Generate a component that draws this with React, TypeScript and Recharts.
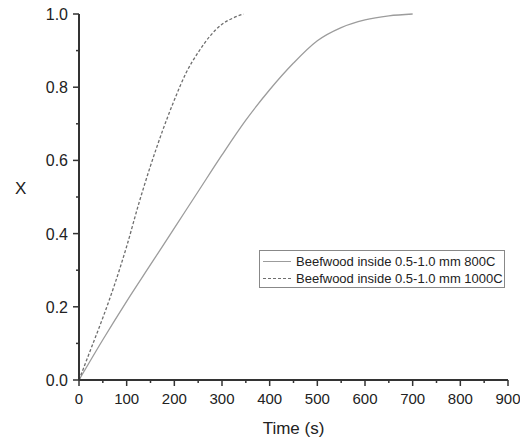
import React from 'react';
import { LineChart, Line, XAxis, YAxis, Legend } from 'recharts';

// time (s) vs conversion X
const time800 = [0, 50, 100, 150, 200, 250, 300, 350, 400, 450, 500, 550, 600, 650, 700];
const conv800 = [0, 0.11, 0.215, 0.315, 0.415, 0.515, 0.615, 0.71, 0.793, 0.866, 0.927, 0.963, 0.984, 0.995, 1.0];

const time1000 = [0, 25, 50, 75, 100, 125, 150, 175, 200, 225, 250, 275, 300, 325, 345];
const conv1000 = [0, 0.085, 0.17, 0.262, 0.365, 0.48, 0.585, 0.68, 0.765, 0.84, 0.895, 0.94, 0.972, 0.99, 1.0];

const xTicks = [0, 50, 100, 150, 200, 250, 300, 350, 400, 450, 500, 550, 600, 650, 700, 750, 800, 850, 900];
const yTicks = [0, 0.1, 0.2, 0.3, 0.4, 0.5, 0.6, 0.7, 0.8, 0.9, 1.0];

const series = [
  { name: 'Beefwood inside 0.5-1.0 mm 800C', data: time800.map((t, i) => ({ t, x: conv800[i] })), color: '#9c9c9c', dash: undefined },
  { name: 'Beefwood inside 0.5-1.0 mm 1000C', data: time1000.map((t, i) => ({ t, x: conv1000[i] })), color: '#6e6e6e', dash: '3 2' },
];

const FONT = '"Liberation Sans", Arial, sans-serif';
const AXIS = '#333';

const XTick = (props: any) => {
  const { x, y, payload } = props;
  const major = payload.value % 100 === 0;
  return (
    <g>
      <line x1={x} x2={x} y1={y} y2={y + (major ? 6 : 3)} stroke={AXIS} strokeWidth={1.5} />
      {major && (
        <text x={x} y={y + 24} textAnchor="middle" fontSize={15} fontFamily={FONT} fill="#222">
          {payload.value}
        </text>
      )}
    </g>
  );
};

const YTick = (props: any) => {
  const { x, y, payload } = props;
  const major = Math.round(payload.value * 10) % 2 === 0;
  return (
    <g>
      <line x1={x} x2={x - (major ? 6 : 3)} y1={y} y2={y} stroke={AXIS} strokeWidth={1.5} />
      {major && (
        <text x={x - 11} y={y + 6} textAnchor="end" fontSize={16} fontFamily={FONT} fill="#222">
          {payload.value.toFixed(1)}
        </text>
      )}
    </g>
  );
};

const LegendBox = () => (
  <div
    style={{
      width: 244, height: 36, border: '1px solid #888', background: '#fff',
      fontFamily: FONT, fontSize: 13, color: '#222', boxSizing: 'content-box',
    }}
  >
    {series.map((s, i) => (
      <div key={s.name} style={{ display: 'flex', alignItems: 'center', height: 17, marginTop: i === 0 ? 2 : 0 }}>
        <svg width={36} height={17}>
          <line x1={3} x2={31} y1={8.5} y2={8.5} stroke={s.color} strokeWidth={1} strokeDasharray={s.dash} />
        </svg>
        <span style={{ whiteSpace: 'nowrap' }}>{s.name}</span>
      </div>
    ))}
  </div>
);

export default function App() {
  return (
    <div style={{ position: 'absolute', left: 0, top: 0, background: '#fff' }}>
      <LineChart width={520} height={442} margin={{ top: 14, right: 12, bottom: 0, left: 0 }}>
        <XAxis
          type="number" dataKey="t" domain={[0, 900]} ticks={xTicks} interval={0}
          tick={<XTick />} tickSize={0} tickMargin={0} height={62}
          axisLine={{ stroke: AXIS, strokeWidth: 2 }} tickLine={false}
          label={{ value: 'Time (s)', position: 'insideBottom', offset: 8, fontSize: 17, fontFamily: FONT, fill: '#222' }}
        />
        <YAxis
          type="number" domain={[0, 1]} ticks={yTicks} interval={0}
          tick={<YTick />} tickSize={0} tickMargin={0} width={79}
          axisLine={{ stroke: AXIS, strokeWidth: 2 }} tickLine={false}
          label={{ value: 'X', position: 'insideLeft', offset: 15, dy: -9, fontSize: 17, fontFamily: FONT, fill: '#222' }}
        />
        <Legend
          layout="vertical" align="center" verticalAlign="middle"
          content={<LegendBox />}
          wrapperStyle={{ position: 'absolute', left: 259, top: 250, width: 'auto' }}
        />
        {series.map((s) => (
          <Line
            key={s.name} name={s.name} data={s.data} dataKey="x" type="monotone"
            stroke={s.color} strokeWidth={1.3} strokeDasharray={s.dash}
            dot={false} activeDot={false} isAnimationActive={false}
          />
        ))}
      </LineChart>
    </div>
  );
}
